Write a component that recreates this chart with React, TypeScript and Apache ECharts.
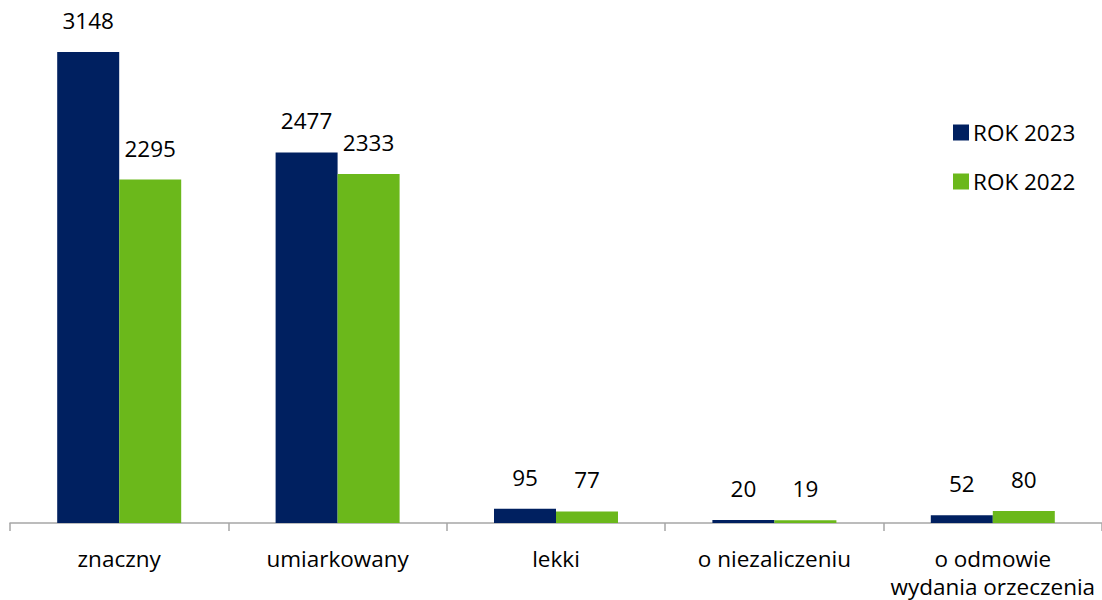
import React, { useEffect, useRef } from "react";
import * as echarts from "echarts";

const categories = ["znaczny", "umiarkowany", "lekki", "o niezaliczeniu", "o odmowie\nwydania orzeczenia"];
const seriesNames = ["ROK 2023", "ROK 2022"];
const values2023 = [3148, 2477, 95, 20, 52];
const values2022 = [2295, 2333, 77, 19, 80];
const colors = ["#002060", "#6BB81B"];

export default function App() {
  const ref = useRef<HTMLDivElement>(null);
  useEffect(() => {
    if (!ref.current) return;
    const chart = echarts.init(ref.current, null, { renderer: "svg" });
    const font = "'Open Sans', sans-serif";
    const fs = 22.5;
    const label = {
      show: true,
      position: "top",
      distance: 20,
      fontSize: fs,
      color: "#000",
      fontFamily: font,
    };
    chart.setOption({
      animation: false,
      color: colors,
      legend: {
        orient: "vertical",
        left: 948,
        top: 116,
        itemWidth: 16,
        itemHeight: 16,
        itemGap: 26,
        itemStyle: { borderWidth: 0 },
        icon: "rect",
        textStyle: { fontSize: fs, color: "#000", fontFamily: font, padding: [0, 0, 0, -1] },
        data: seriesNames,
      },
      grid: { left: 10, right: 0, top: 52, bottom: 73 },
      xAxis: {
        type: "category",
        data: categories,
        axisLine: { lineStyle: { color: "#A6A6A6", width: 1.5 } },
        axisTick: { show: true, length: 8, lineStyle: { color: "#A6A6A6", width: 1.5 } },
        axisLabel: {
          fontSize: fs,
          color: "#000",
          fontFamily: font,
          margin: 21,
          lineHeight: 28,
          interval: 0,
        },
      },
      yAxis: {
        type: "value",
        min: 0,
        max: Math.max(...values2023, ...values2022),
        show: false,
        splitLine: { show: false },
      },
      series: [
        {
          name: seriesNames[0],
          type: "bar",
          data: values2023,
          barWidth: 62,
          barGap: "0%",
          label,
        },
        {
          name: seriesNames[1],
          type: "bar",
          data: values2022,
          barWidth: 62,
          barGap: "0%",
          label,
        },
      ],
    });
    return () => chart.dispose();
  }, []);
  return (
    <div
      ref={ref}
      style={{ position: "fixed", left: 0, top: 0, width: 1102, height: 600, background: "#fff" }}
    />
  );
}
